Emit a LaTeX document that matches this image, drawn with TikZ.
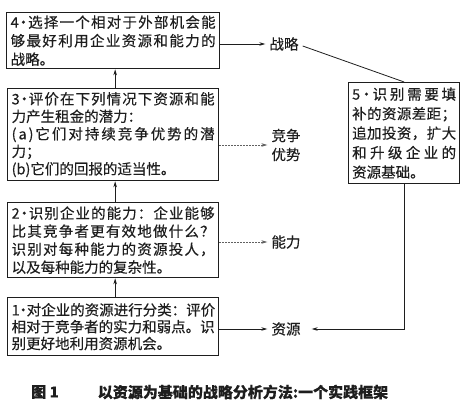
\documentclass[tikz,border=0pt]{standalone}
\usepackage{fontspec}
\setmainfont{Noto Sans CJK SC}[FakeBold=0.3]
\usetikzlibrary{arrows.meta}
\makeatletter
\def\jl#1{\leavevmode\hbox to \hsize{\jl@a#1\@nil}}
\def\jl@a#1{\ifx#1\@nil\unskip\else#1\hfil\expandafter\jl@a\fi}
\makeatother
\newcommand{\dt}{\hbox to 7pt{\hss·\hss}}
\definecolor{ink}{HTML}{1E1E1E}
\tikzset{
  stepbox/.style={draw=ink, line width=1.3pt, inner xsep=4pt, inner ysep=2pt, align=left,
    anchor=north west, text=ink},
  lbl/.style={text=ink, font=\fontsize{14.5}{19}\selectfont, inner sep=4pt, align=center},
  arr/.style={draw=ink, line width=0.8pt, -{Stealth[length=6pt,width=3.5pt]}},
  dotarr/.style={draw=ink!70, line width=0.6pt, dash pattern=on 1.5pt off 1.5pt, -{Stealth[length=6pt,width=3.5pt]}},
  plain/.style={draw=ink, line width=0.8pt}
}
\begin{document}
\begin{tikzpicture}[x=1pt,y=-1pt]
\useasboundingbox[fill=white] (0,0) rectangle (469,404);
% boxes
\node[stepbox, text width=205pt, minimum height=56pt, font=\fontsize{14.5}{18.5}\selectfont] (b4) at (6,12)
 {\jl{4\dt 选择一个相对于外部机会能}\\\jl{够最好利用企业资源和能力的}\\战略。};
\node[stepbox, text width=203pt, minimum height=92pt, font=\fontsize{14.5}{17.5}\selectfont] (b3) at (7,88)
 {\jl{3\dt 评价在下列情况下资源和能}\\力产生租金的潜力：\\\jl{(a)它们对持续竞争优势的潜}\\力；\\(b)它们的回报的适当性。};
\node[stepbox, text width=203pt, minimum height=75pt, font=\fontsize{14.5}{18}\selectfont] (b2) at (7,202)
 {\jl{2\dt 识别企业的能力：企业能够}\\\jl{比其竞争者更有效地做什么？}\\\jl{识别对每种能力的资源投人，}\\以及每种能力的复杂性。};
\node[stepbox, text width=203pt, minimum height=58pt, font=\fontsize{14.5}{16.8}\selectfont] (b1) at (7,297)
 {\jl{1\dt 对企业的资源进行分类：评价}\\\jl{相对于竞争者的实力和弱点。识}\\别更好地利用资源机会。};
\node[stepbox, inner xsep=3.5pt, text width=104pt, minimum height=101pt, font=\fontsize{14.5}{19.5}\selectfont] (b5) at (348,82)
 {\jl{5\dt 识别需要填}\\\jl{补的资源差距；}\\\jl{追加投资，扩大}\\\jl{和升级企业的}\\资源基础。};
% labels
\node[lbl] (zl) at (284,44) {战略};
\node[lbl] (zj) at (286,145) {竞争\\优势};
\node[lbl] (zn) at (286,242) {能力};
\node[lbl] (zy) at (286,329) {资源};
% vertical arrows
\draw[arr] ([xshift=2pt]b1.north) -- ([xshift=2pt]b2.south);
\draw[arr] ([xshift=2pt]b2.north) -- ([xshift=2pt]b3.south);
\draw[arr] ([xshift=2pt]b3.north) -- ([xshift=2pt]b4.south);
% right arrows
\draw[arr] (b4.east |- zl.west) -- (zl.west);
\draw[dotarr] (b3.east |- zj.west) -- (zj.west);
\draw[dotarr] (b2.east |- zn.west) -- (zn.west);
\draw[arr] (b1.east |- zy.west) -- (zy.west);
% feedback loop
\draw[plain] ([yshift=-2pt]zl.east) -- (b5.north);
\draw[arr, shorten >=7pt] (b5.south) |- (zy.east);
% caption
\node[text=ink, font=\bfseries\fontsize{15}{18}\selectfont, inner sep=0pt] (cap1) at (45,392) {图 1};
\node[text=ink, font=\bfseries\fontsize{15}{18}\selectfont, inner sep=0pt] (cap2) at (243,392) {以资源为基础的战略分析方法:一个实践框架};
\end{tikzpicture}
\end{document}
